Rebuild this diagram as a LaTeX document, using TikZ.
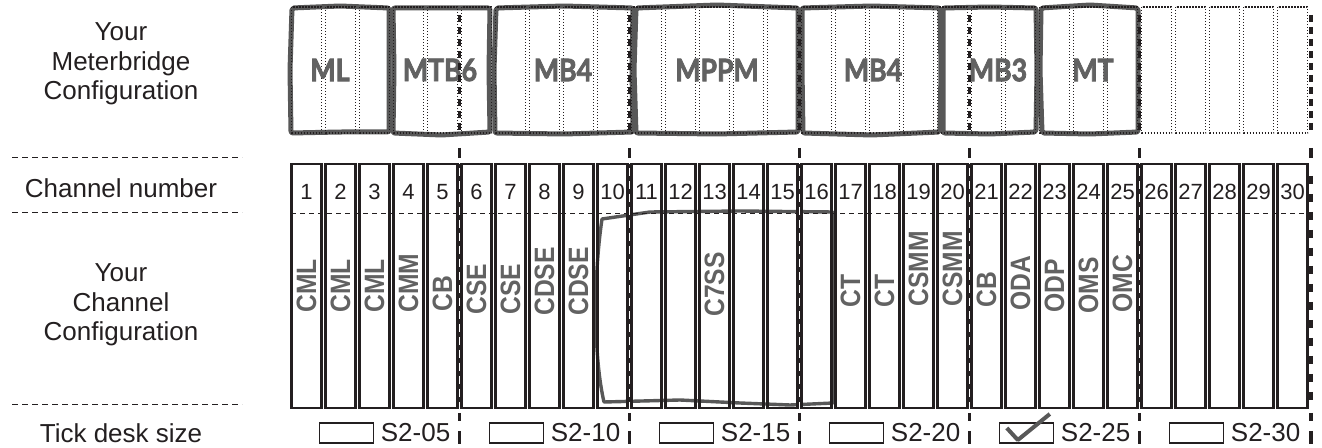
\documentclass[tikz,border=0pt]{standalone}
\usepackage{fontspec}
\setmainfont{Liberation Sans}
\newfontfamily\modfont{Lato}[FakeStretch=0.86, BoldFeatures={FakeBold=2.5}]
\newfontfamily\vfont{Liberation Sans}[FakeStretch=0.88]
\definecolor{ink}{RGB}{35,31,32}
\definecolor{mgray}{RGB}{88,88,88}
\definecolor{tgray}{RGB}{98,98,98}
\newcommand\roughbox[7]{% name, x1, x2, a, b, c, d
  \draw[rough] (#2+#4,8) -- ({(#2+#3)/2},{7+#5}) -- (#3,8) -- ({#3+#6},70) -- (#3,132)
    -- ({(#2+#3)/2},{133+#7}) -- (#2,133) -- ({#2+#5},70) -- cycle;
  \coordinate (#1) at ({(#2+#3)/2},70);}
\begin{document}
\begin{tikzpicture}[x=0.5pt,y=-0.5pt,
  lbl/.style={font=\fontsize{13}{14.8}\selectfont, align=center, text=ink, inner sep=0pt},
  num/.style={font=\fontsize{11}{13}\selectfont, text=ink, inner sep=0pt},
  vlab/.style={font=\vfont\fontsize{14}{16}\selectfont\bfseries, text=tgray, rotate=90, anchor=west, inner sep=0pt},
  modlab/.style={font=\modfont\fontsize{15.5}{18}\selectfont\bfseries, text=tgray, inner sep=0pt},
  chbox/.style={draw=ink, line width=1.15pt, minimum width=15pt, minimum height=122pt, inner sep=0pt},
  tickbox/.style={draw=ink, line width=0.7pt, minimum width=27pt, minimum height=10pt, inner sep=0pt},
  dotline/.style={draw=ink, line width=0.6pt, dash pattern=on 0.7pt off 0.8pt},
  rough/.style={draw=mgray, line width=2.5pt, line join=round, rounded corners=1pt},
  roughthin/.style={draw=mgray, line width=1.7pt, line join=round},
  sepdash/.style={draw=ink, line width=1.6pt, dash pattern=on 3.5pt off 2.5pt},
  sepsolid/.style={draw=ink, line width=1.6pt},
  guide/.style={draw=ink, line width=0.5pt, dash pattern=on 3pt off 2pt},
  rowguide/.style={draw=ink, line width=0.5pt, dash pattern=on 2.5pt off 2pt},
  checkmk/.style={draw=mgray, line width=2pt, line join=round}
]
\useasboundingbox (0,0) rectangle (1322,448);

% ---- left labels
\node[lbl] (lmb) at (121,64) {Your\\Meterbridge\\Configuration};
\node[lbl] (lcn) at (121,188) {Channel number};
\node[lbl] (lcc) at (121,305) {Your\\Channel\\Configuration};
\node[lbl] (ltd) at (121,433) {Tick desk size};
\coordinate (g1a) at (12,158); \coordinate (g1b) at (242,158);
\coordinate (g2a) at (12,213); \coordinate (g2b) at (242,213);
\coordinate (g3a) at (12,405); \coordinate (g3b) at (242,405);
\draw[guide] (g1a) -- (g1b);
\draw[guide] (g2a) -- (g2b);
\draw[guide] (g3a) -- (g3b);

% ---- meterbridge modules (gray rough outlines)
\roughbox{mML}{291}{389}{1}{-1}{0}{-1}
\roughbox{mMTB}{393}{490}{0}{1}{-1}{2}
\roughbox{mMBa}{495}{633}{1}{-1}{-1}{1}
\roughbox{mMPPM}{636}{798}{0}{-2}{0}{1}
\roughbox{mMBb}{803}{940}{-1}{-1}{1}{2}
\roughbox{mMB3}{943}{1036}{0}{0}{1}{1}
\roughbox{mMT}{1042}{1138}{-1}{-2}{0}{1}

% ---- dotted channel outlines in meterbridge row
\foreach \k in {1,...,30}{
  \pgfmathsetmacro\xl{291+34*(\k-1)}
  \draw[dotline] (\xl+0.5,7) rectangle (\xl+30.5,133);
}

% ---- module labels
\node[modlab] (tML) at (330,70) {ML};
\node[modlab] (tMTB) at (440,70) {MTB6};
\node[modlab] (tMBa) at (563,70) {MB4};
\node[modlab] (tMPPM) at (717,70) {MPPM};
\node[modlab] (tMBb) at (873,70) {MB4};
\node[modlab] (tMB3) at (998,70) {MB3};
\node[modlab] (tMT) at (1093,70) {MT};

% ---- C7SS rough group box
\draw[roughthin] (602,219) -- (650,212) -- (740,211) -- (833,212) -- (833,403)
  -- (790,405) -- (740,403) -- (680,400) -- (604,402)
  .. controls (594,360) and (593,280) .. (602,219) -- cycle;

% ---- channel boxes and numbers
\foreach \k in {1,...,30}{
  \pgfmathsetmacro\xc{291+34*(\k-1)+15.5}
  \node[chbox] (ch\k) at (\xc,286) {};
  \node[num] (n\k) at (\xc,192) {\k};
}
\coordinate (ra) at (291,214); \coordinate (rb) at (1309,214);
\draw[rowguide] (ra) -- (rb);

% ---- channel type labels
\foreach \k/\t/\yb in {1/CML/313, 2/CML/313, 3/CML/313, 4/CMM/313, 5/CB/312,
   6/CSE/315, 7/CSE/315, 8/CDSE/316, 9/CDSE/316, 13/C7SS/317, 17/CT/308, 18/CT/308,
   19/CSMM/307, 20/CSMM/307, 21/CB/308, 22/ODA/311, 23/ODP/313, 24/OMS/314, 25/OMC/313}{
  \pgfmathsetmacro\xc{291+34*(\k-1)+15.5}
  \node[vlab] (v\k) at (\xc,\yb) {\t};
}

% ---- five-channel separators
\foreach \m in {1,...,6}{
  \pgfmathsetmacro\sx{\m<6 ? 289.5+170*\m : 1311}
  \coordinate (sa\m) at (\sx,15); \coordinate (sb\m) at (\sx,133);
  \coordinate (sc\m) at (\sx,148); \coordinate (sd\m) at (\sx,158);
  \coordinate (se\m) at (\sx,164); \coordinate (sf\m) at (\sx,408);
  \coordinate (sg\m) at (\sx,413); \coordinate (sh\m) at (\sx,421);
  \coordinate (si\m) at (\sx,431); \coordinate (sj\m) at (\sx,444);
  \draw[sepdash] (sa\m) -- (sb\m);
  \draw[sepsolid] (sc\m) -- (sd\m);
  \draw[sepsolid] (sg\m) -- (sh\m);
  \draw[sepsolid] (si\m) -- (sj\m);
}
\foreach \m in {1,...,5}{
  \draw[draw=ink, line width=3pt] (se\m) -- (sf\m);
  \draw[draw=white, line width=0.6pt, dash pattern=on 4pt off 2.5pt] ([yshift=-2pt]se\m) -- (sf\m);
}
\draw[draw=ink, line width=1.6pt, dash pattern=on 4pt off 5pt] ([yshift=-6pt]se6) -- (sf6);

% ---- tick desk size
\foreach \m/\t in {1/05,2/10,3/15,4/20,5/25,6/30}{
  \pgfmathsetmacro\sx{\m<6 ? 289.5+170*\m : 1309.5}
  \node[tickbox] (tb\m) at (\sx-113,433) {};
  \node[lbl, anchor=west] (ts\m) at (\sx-79,433) {S2-\t};
}
\draw[checkmk] ([shift={(8,-5)}]tb5.west) -- ([shift={(19,7)}]tb5.west) -- ([shift={(51,-19)}]tb5.west);
\end{tikzpicture}
\end{document}
